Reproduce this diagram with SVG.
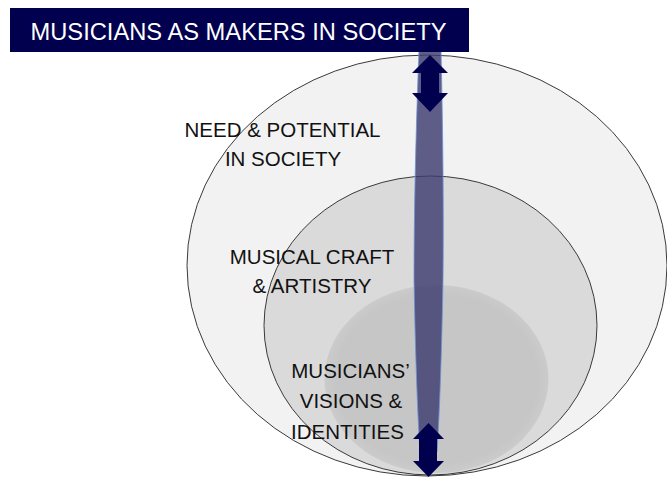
<svg xmlns="http://www.w3.org/2000/svg" width="667" height="479" viewBox="0 0 667 479">
  <defs>
    <radialGradient id="innerGrad" cx="0.5" cy="0.5" r="0.5">
      <stop offset="0.9" stop-color="#c6c6c6"/>
      <stop offset="1" stop-color="#cbcbcb"/>
    </radialGradient>
    <style>
      .lbl { font-family: "Liberation Sans", Arial, sans-serif; font-size: 20.5px; fill: #111; text-anchor: middle; }
      .title { font-family: "Liberation Sans", Arial, sans-serif; font-size: 23.7px; fill: #ffffff; text-anchor: middle; }
      .ring { stroke: #3a3a3a; stroke-width: 1; }
      .arrow { fill: #00004f; }
    </style>
  </defs>
  <rect width="667" height="479" fill="#ffffff"/>

  <g id="outer">
    <ellipse class="ring" cx="427" cy="265.5" rx="240" ry="210.5" fill="#f2f2f2"/>
  </g>
  <g id="middle">
    <ellipse class="ring" cx="430.5" cy="325.5" rx="166.5" ry="149.5" fill="#dadada"/>
  </g>
  <g id="inner">
    <ellipse cx="436.5" cy="379" rx="112" ry="94" fill="url(#innerGrad)"/>
  </g>

  <g id="connectors">
    <path d="M419,50 L441,50 Q444,180 443,280 Q441,390 437,452 L420,452 Q416,390 414,280 Q414,180 419,50 Z" fill="#3c3c70" fill-opacity="0.82" stroke="#6f93d6" stroke-width="0.8"/>
    <polygon class="arrow" points="430,55 448,73 439,73 439,93 448,93 430,112 412,93 421,93 421,73 412,73"/>
    <polygon class="arrow" points="428.5,423 444,439 437,439 437,461 444,461 428.5,477 413,461 419,461 419,439 413,439"/>
  </g>

  <g id="title">
    <rect x="10" y="8" width="459" height="44" fill="#00004f"/>
    <text class="title" x="238.5" y="40">MUSICIANS AS MAKERS IN SOCIETY</text>
  </g>

  <g id="labels">
    <text class="lbl" x="282.5" y="137">NEED &amp; POTENTIAL</text>
    <text class="lbl" x="283" y="166">IN SOCIETY</text>
    <text class="lbl" x="312" y="264">MUSICAL CRAFT</text>
    <text class="lbl" x="312" y="293">&amp; ARTISTRY</text>
    <text class="lbl" x="350.5" y="378">MUSICIANS’</text>
    <text class="lbl" x="351" y="408">VISIONS &amp;</text>
    <text class="lbl" x="347.5" y="439">IDENTITIES</text>
  </g>
</svg>
